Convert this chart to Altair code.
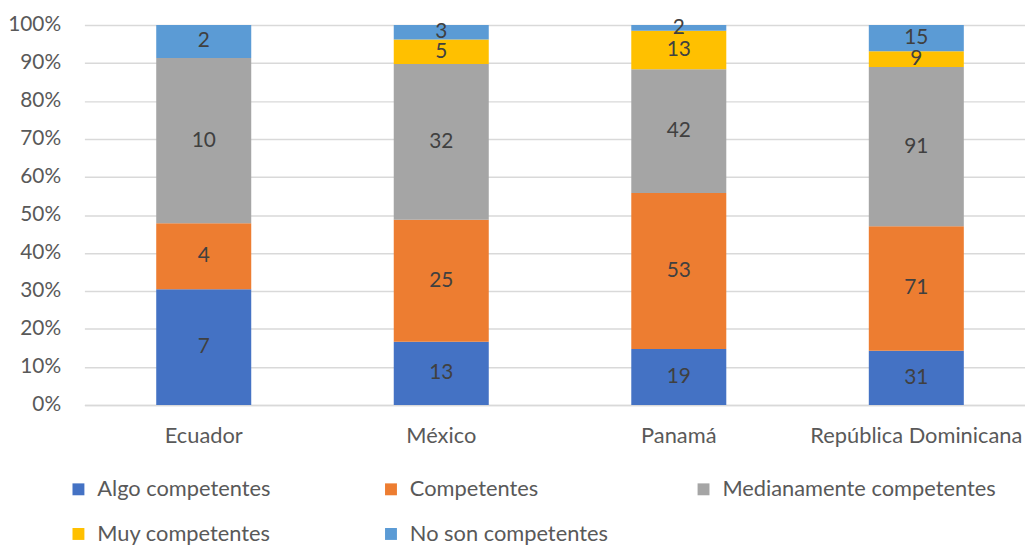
import altair as alt
import pandas as pd

countries = ["Ecuador", "México", "Panamá", "República Dominicana"]
series = ["Algo competentes", "Competentes", "Medianamente competentes", "Muy competentes", "No son competentes"]
colors = ["#4472C4", "#ED7D31", "#A5A5A5", "#FFC000", "#5B9BD5"]

algo = [7, 13, 19, 31]
competentes = [4, 25, 53, 71]
medianamente = [10, 32, 42, 91]
muy = [0, 5, 13, 9]
no_son = [2, 3, 2, 15]
y_ticks = [0, 0.1, 0.2, 0.3, 0.4, 0.5, 0.6, 0.7, 0.8, 0.9, 1.0]

rows = []
for si, (name, vals) in enumerate(zip(series, [algo, competentes, medianamente, muy, no_son])):
    for c, v in zip(countries, vals):
        rows.append({"country": c, "series": name, "idx": si, "value": v})
df = pd.DataFrame(rows)

FONT = "Lato"
GRAY = "#595959"

x_scale = alt.Scale(paddingInner=0.6, paddingOuter=0.28, align=0.54)
y_scale = alt.Scale(domain=[0, 1])
x_axis = alt.Axis(labelAngle=0, ticks=False, domainColor="#D9D9D9", domainWidth=1.5,
                  labelFont=FONT, labelFontSize=22, labelColor=GRAY, labelPadding=21,
                  labelLimit=400)
y_axis = alt.Axis(format="%", values=y_ticks, domain=False, ticks=False,
                  gridColor="#D9D9D9", gridWidth=1.5, labelOverlap=False,
                  labelFont=FONT, labelFontSize=21, labelColor=GRAY, labelPadding=24)

base = alt.Chart(df)

bars = base.mark_bar().encode(
    x=alt.X("country:N", sort=countries, title=None, scale=x_scale, axis=x_axis),
    y=alt.Y("value:Q", stack="normalize", title=None, scale=y_scale, axis=y_axis),
    color=alt.Color("series:N", sort=series, title=None,
                    scale=alt.Scale(domain=series, range=colors),
                    legend=alt.Legend(orient="none", legendX=-17, legendY=457, direction="horizontal",
                                      columns=3, gridAlign="all", columnPadding=9, rowPadding=23,
                                      symbolType="square", symbolSize=144, symbolStrokeWidth=0,
                                      labelFont=FONT, labelFontSize=22, labelColor=GRAY,
                                      labelOffset=8, labelLimit=400)),
    order=alt.Order("idx:Q", sort="ascending"),
)

labels = base.transform_filter("datum.value > 0").transform_stack(
    stack="value", groupby=["country"], as_=["y0", "y1"], offset="normalize",
    sort=[alt.SortField("idx", order="ascending")]
).transform_calculate(mid="(datum.y0 + datum.y1) / 2").mark_text(
    font=FONT, fontSize=21, color="#404040", baseline="middle"
).encode(
    x=alt.X("country:N", sort=countries, title=None, scale=x_scale, axis=x_axis),
    y=alt.Y("mid:Q", title=None, scale=y_scale, axis=y_axis),
    text=alt.Text("value:Q"),
)

chart = alt.layer(bars, labels).properties(
    width=948, height=383,
    autosize=alt.AutoSizeParams(type="none"),
    padding={"left": 77, "top": 15, "right": 0, "bottom": 139},
).configure_view(stroke=None)

chart.save("out.html", embed_options={"renderer": "svg", "actions": False})
